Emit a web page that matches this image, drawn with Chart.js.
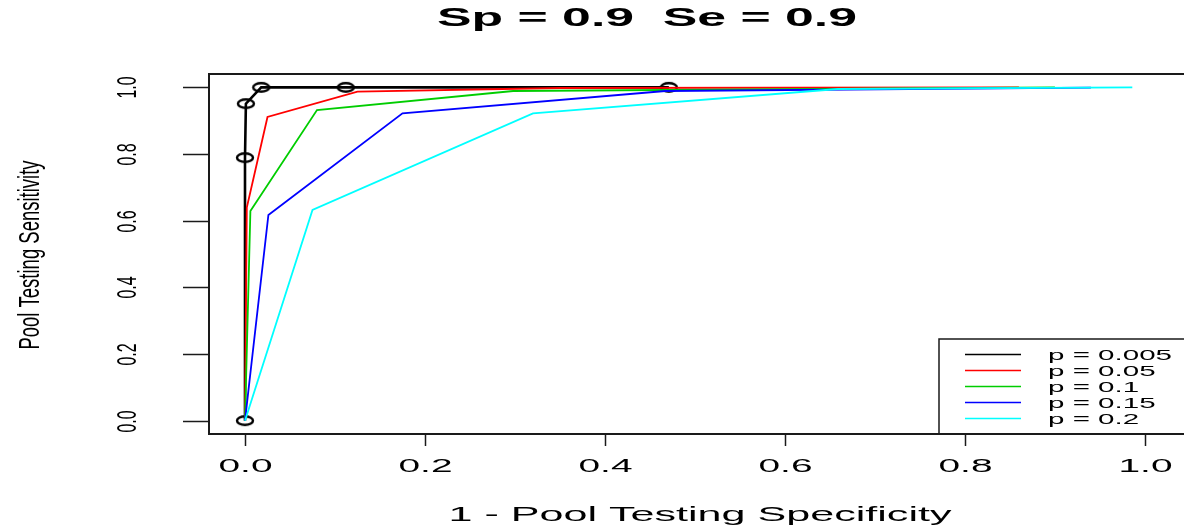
<!DOCTYPE html>
<html>
<head>
<meta charset="utf-8">
<script src="https://cdn.jsdelivr.net/npm/chart.js@4/dist/chart.umd.min.js"></script>
<style>
  html, body { margin: 0; padding: 0; background: #fff; overflow: hidden; }
  #wrap { width: 1184px; height: 527px; }
</style>
</head>
<body>
<div id="wrap"><canvas id="roc" width="1184" height="527"></canvas></div>
<script>
// ===== data (1 - specificity, sensitivity) =====
const seriesNames = ['p = 0.005', 'p = 0.05', 'p = 0.1', 'p = 0.15', 'p = 0.2'];
const seriesColors = ['#000000', '#ff0000', '#00cd00', '#0000ff', '#00ffff'];

const fprP005 = [0, 0, 0.001, 0.018, 0.112, 0.471];
const senP005 = [0, 0.789, 0.951, 1.0, 1.0, 1.0];

const fprP05 = [0, 0.002, 0.025, 0.125, 0.35, 0.86];
const senP05 = [0, 0.639, 0.911, 0.987, 0.998, 1.0];

const fprP10 = [0, 0.006, 0.080, 0.298, 0.90];
const senP10 = [0, 0.629, 0.932, 0.989, 1.0];

const fprP15 = [0, 0.026, 0.175, 0.467, 0.94];
const senP15 = [0, 0.617, 0.922, 0.989, 0.999];

const fprP20 = [0, 0.075, 0.320, 0.659, 0.986];
const senP20 = [0, 0.632, 0.922, 0.995, 1.0];

const xTicks = [0, 0.2, 0.4, 0.6, 0.8, 1.0];
const yTicks = [0, 0.2, 0.4, 0.6, 0.8, 1.0];
const titleText = 'Sp = 0.9  Se = 0.9';
const xTitle = '1 - Pool Testing Specificity';
const yTitle = 'Pool Testing Sensitivity';

const toPoints = (xs, ys) => xs.map((x, i) => ({ x: x, y: ys[i] }));
const allX = [fprP005, fprP05, fprP10, fprP15, fprP20];
const allY = [senP005, senP05, senP10, senP15, senP20];

// open ellipse marker (R's "o" looks stretched in this picture)
const ring = document.createElement('canvas');
ring.width = 20; ring.height = 13;
(function () {
  const c = ring.getContext('2d');
  c.strokeStyle = '#000';
  c.lineWidth = 2.4;
  c.beginPath();
  c.ellipse(10, 6.5, 8, 4.3, 0, 0, Math.PI * 2);
  c.stroke();
})();

const datasets = seriesNames.map((name, i) => ({
  label: name,
  data: toPoints(allX[i], allY[i]),
  showLine: true,
  borderColor: seriesColors[i],
  backgroundColor: seriesColors[i],
  borderWidth: i === 0 ? 2.6 : 1.8,
  pointRadius: i === 0 ? 5 : 0,
  pointStyle: i === 0 ? ring : 'circle',
  tension: 0,
  order: 5 - i,
  clip: false
}));

// draw text squeezed/stretched like the reference raster
function putText(ctx, str, x, y, o) {
  ctx.save();
  ctx.font = (o.bold ? 'bold ' : '') + o.size + 'px "Liberation Sans", Arial, sans-serif';
  ctx.fillStyle = '#000';
  ctx.textAlign = o.align || 'center';
  ctx.textBaseline = 'middle';
  ctx.translate(x, y);
  if (o.rot) {
    ctx.rotate(o.rot);
    ctx.scale(1, o.across || 1);
  } else {
    const w = ctx.measureText(str).width;
    const sx = o.width ? o.width / w : (o.sx || 1);
    ctx.scale(sx, 1);
  }
  ctx.fillText(str, 0, 0);
  ctx.restore();
}

function stretchFor(ctx, sample, size, bold, target) {
  ctx.save();
  ctx.font = (bold ? 'bold ' : '') + size + 'px "Liberation Sans", Arial, sans-serif';
  const w = ctx.measureText(sample).width;
  ctx.restore();
  return target / w;
}

const frame = {
  id: 'frame',
  afterDraw(chart) {
    const ctx = chart.ctx;
    const a = chart.chartArea;
    const xs = chart.scales.x, ys = chart.scales.y;
    ctx.save();
    ctx.strokeStyle = '#1a1a1a';
    ctx.lineCap = 'butt';

    // plot box (right side falls outside the picture)
    ctx.lineWidth = 2;
    ctx.beginPath();
    ctx.moveTo(chart.width + 2, a.top);
    ctx.lineTo(a.left, a.top);
    ctx.lineTo(a.left, a.bottom);
    ctx.lineTo(chart.width + 2, a.bottom);
    ctx.stroke();

    // x ticks
    ctx.lineWidth = 1.5;
    const sxTick = stretchFor(ctx, '0.0', 19, false, 54);
    xTicks.forEach(v => {
      const px = Math.round(xs.getPixelForValue(v)) + 0.5;
      ctx.beginPath();
      ctx.moveTo(px, a.bottom);
      ctx.lineTo(px, a.bottom + 12);
      ctx.stroke();
      putText(ctx, v.toFixed(1), px, 467, { size: 19, sx: sxTick });
    });

    // y ticks
    yTicks.forEach(v => {
      const py = Math.round(ys.getPixelForValue(v)) + 0.5;
      ctx.beginPath();
      ctx.moveTo(a.left, py);
      ctx.lineTo(a.left - 26, py);
      ctx.stroke();
      putText(ctx, v.toFixed(1), 128, py, { size: 16, rot: -Math.PI / 2, across: 1.75 });
    });

    // axis titles and main title
    putText(ctx, xTitle, 700, 515, { size: 21, width: 503 });
    putText(ctx, yTitle, 31, 255, { size: 18.5, rot: -Math.PI / 2, across: 1.6 });
    putText(ctx, titleText, 647, 19, { size: 26, bold: true, width: 420 });

    // legend box in the lower right corner
    const lx = 939, ly = 339;
    ctx.lineWidth = 1.5;
    ctx.beginPath();
    ctx.moveTo(chart.width + 2, ly);
    ctx.lineTo(lx, ly);
    ctx.lineTo(lx, a.bottom);
    ctx.stroke();
    const sxLeg = stretchFor(ctx, 'p = 0.005', 15, false, 124);
    seriesNames.forEach((name, i) => {
      const yy = 354.5 + i * 16;
      ctx.strokeStyle = seriesColors[i];
      ctx.lineWidth = 1.3;
      ctx.beginPath();
      ctx.moveTo(965, yy);
      ctx.lineTo(1021, yy);
      ctx.stroke();
      putText(ctx, name, 1048, yy + 1, { size: 15, sx: sxLeg, align: 'left' });
    });
    ctx.restore();
  }
};

new Chart(document.getElementById('roc'), {
  type: 'scatter',
  data: { datasets: datasets },
  options: {
    responsive: false,
    animation: false,
    devicePixelRatio: 1,
    layout: { padding: { left: 209, top: 74, right: 0, bottom: 93 } },
    plugins: {
      legend: { display: false },
      title: { display: false },
      tooltip: { enabled: false }
    },
    scales: {
      x: { type: 'linear', min: -0.04, max: 1.035, display: false },
      y: { type: 'linear', min: -0.04, max: 1.04, display: false }
    }
  },
  plugins: [frame]
});
</script>
</body>
</html>
